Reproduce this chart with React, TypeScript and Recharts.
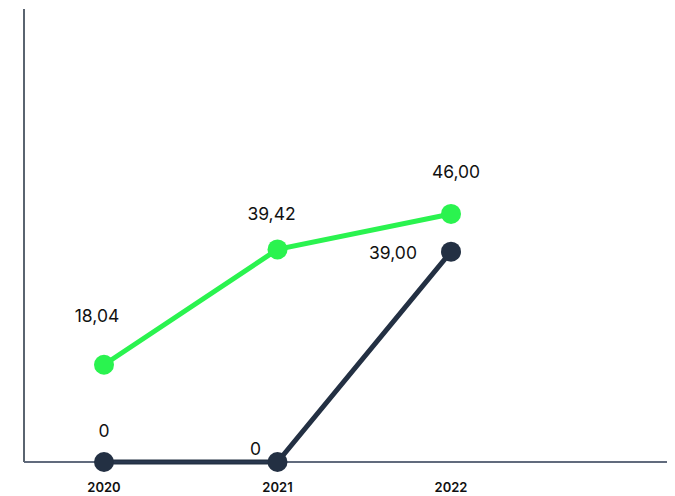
import { LineChart, Line, XAxis, YAxis, LabelList } from "recharts";

const years = ["2020", "2021", "2022"];
const greenValues = [18.04, 39.42, 46.0];
const darkValues = [0, 0, 39.0];

const data = years.map((year, i) => ({
  year,
  green: greenValues[i],
  dark: darkValues[i],
}));

const fmt = (v: number) => (v === 0 ? "0" : v.toFixed(2).replace(".", ","));

// label placement per point, relative to the dot
const greenOffsets = [
  { dx: -7, dy: -47 },
  { dx: -6, dy: -34 },
  { dx: 5, dy: -41 },
];
const darkOffsets = [
  { dx: 0, dy: -30 },
  { dx: -22, dy: -12 },
  { dx: -58, dy: 3 },
];

const makeLabel =
  (offsets: { dx: number; dy: number }[]) =>
  (props: any) => {
    const { x, y, value, index } = props;
    const o = offsets[index] || { dx: 0, dy: -20 };
    return (
      <text
        x={x + o.dx}
        y={y + o.dy}
        textAnchor="middle"
        dominantBaseline="middle"
        fontSize={17.5}
        fontFamily="Inter, sans-serif"
        fill="#111"
      >
        {fmt(value)}
      </text>
    );
  };

export default function App() {
  return (
    <div style={{ position: "absolute", left: 0, top: 0, background: "#fff" }}>
      <LineChart
        width={675}
        height={496}
        data={data}
        margin={{ top: 9, right: 8, left: 23, bottom: 0 }}
      >
        <XAxis
          dataKey="year"
          scale="point"
          padding={{ left: 80, right: 216 }}
          height={34}
          tickLine={false}
          tickSize={0}
          tickMargin={21}
          axisLine={{ stroke: "#2c3a52", strokeWidth: 1.3 }}
          tick={{ fontSize: 13, fontWeight: 600, fill: "#111", fontFamily: "Inter, sans-serif" }}
        />
        <YAxis
          width={1}
          domain={[0, 84]}
          tick={false}
          tickLine={false}
          axisLine={{ stroke: "#5a6470", strokeWidth: 2 }}
        />
        <Line
          dataKey="green"
          stroke="#2af34f"
          strokeWidth={5}
          dot={{ r: 10, fill: "#2af34f", stroke: "none" }}
          activeDot={false}
          isAnimationActive={false}
        >
          <LabelList dataKey="green" content={makeLabel(greenOffsets)} />
        </Line>
        <Line
          dataKey="dark"
          stroke="#233043"
          strokeWidth={5}
          dot={{ r: 10, fill: "#233043", stroke: "none" }}
          activeDot={false}
          isAnimationActive={false}
        >
          <LabelList dataKey="dark" content={makeLabel(darkOffsets)} />
        </Line>
      </LineChart>
    </div>
  );
}
